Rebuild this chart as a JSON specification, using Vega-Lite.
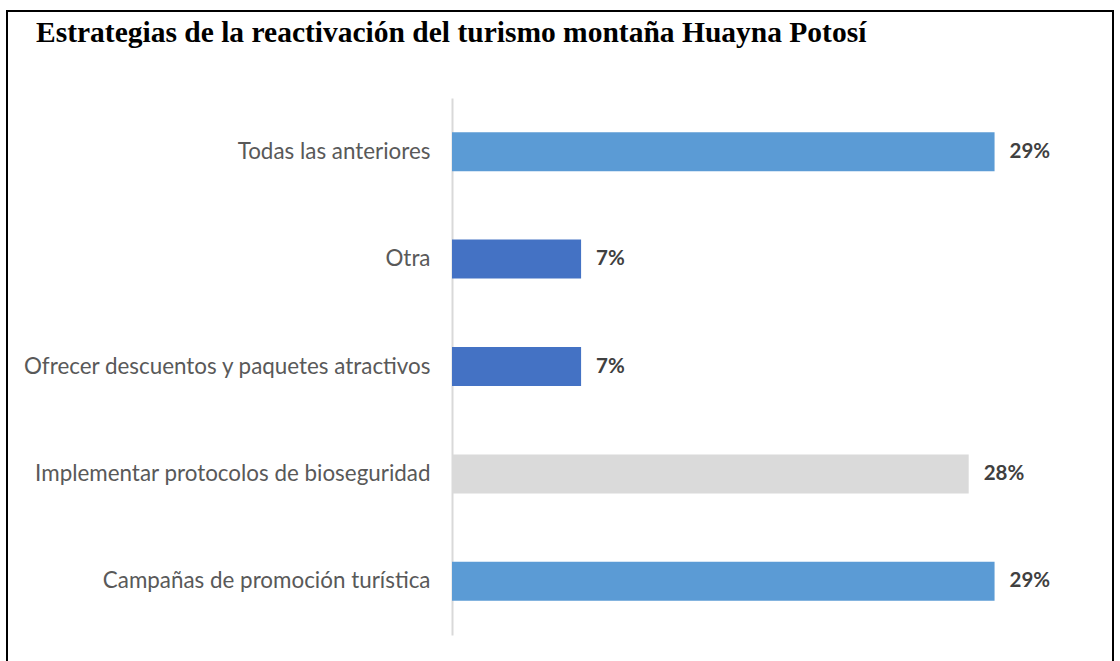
{
  "$schema": "https://vega.github.io/schema/vega-lite/v6.json",
  "width": 1106,
  "height": 700,
  "autosize": {"type": "none"},
  "padding": {"left": 7, "top": 11, "right": 7, "bottom": 0},
  "background": "white",
  "config": {"view": {"stroke": "black", "strokeWidth": 2}},
  "title": {
    "text": "Estrategias de la reactivación del turismo montaña Huayna Potosí",
    "font": "Liberation Serif",
    "fontSize": 29.5,
    "fontWeight": "bold",
    "color": "black",
    "anchor": "start",
    "frame": "group",
    "baseline": "alphabetic",
    "offset": 0,
    "dx": 29,
    "dy": 60
  },
  "data": {
    "values": [
      {"estrategia": "Todas las anteriores", "pct": 0.2917},
      {"estrategia": "Otra", "pct": 0.0694},
      {"estrategia": "Ofrecer descuentos y paquetes atractivos", "pct": 0.0694},
      {"estrategia": "Implementar protocolos de bioseguridad", "pct": 0.2778},
      {"estrategia": "Campañas de promoción turística", "pct": 0.2917}
    ]
  },
  "encoding": {
    "y": {
      "field": "estrategia",
      "type": "nominal",
      "sort": null,
      "scale": {"range": [87, 624], "paddingInner": 0.637, "paddingOuter": 0.3185},
      "axis": {
        "title": null,
        "offset": -445,
        "ticks": false,
        "domainColor": "#D9D9D9",
        "domainWidth": 2,
        "labelFont": "Lato",
        "labelFontSize": 22.4,
        "labelColor": "#595959",
        "labelPadding": 22,
        "labelLimit": 0
      }
    },
    "x": {
      "field": "pct",
      "type": "quantitative",
      "scale": {"domain": [0, 0.35], "range": [445, 1096]},
      "axis": null
    }
  },
  "layer": [
    {
      "mark": {"type": "bar"},
      "encoding": {
        "color": {
          "field": "estrategia",
          "type": "nominal",
          "legend": null,
          "scale": {
            "domain": ["Todas las anteriores", "Otra", "Ofrecer descuentos y paquetes atractivos", "Implementar protocolos de bioseguridad", "Campañas de promoción turística"],
            "range": ["#5B9BD5", "#4472C4", "#4472C4", "#DADADA", "#5B9BD5"]
          }
        }
      }
    },
    {
      "mark": {"type": "text", "align": "left", "baseline": "middle", "dx": 15, "font": "Lato", "fontSize": 20.5, "fontWeight": "bold", "color": "#404040"},
      "encoding": {"text": {"field": "pct", "type": "quantitative", "format": ".0%"}}
    }
  ]
}
